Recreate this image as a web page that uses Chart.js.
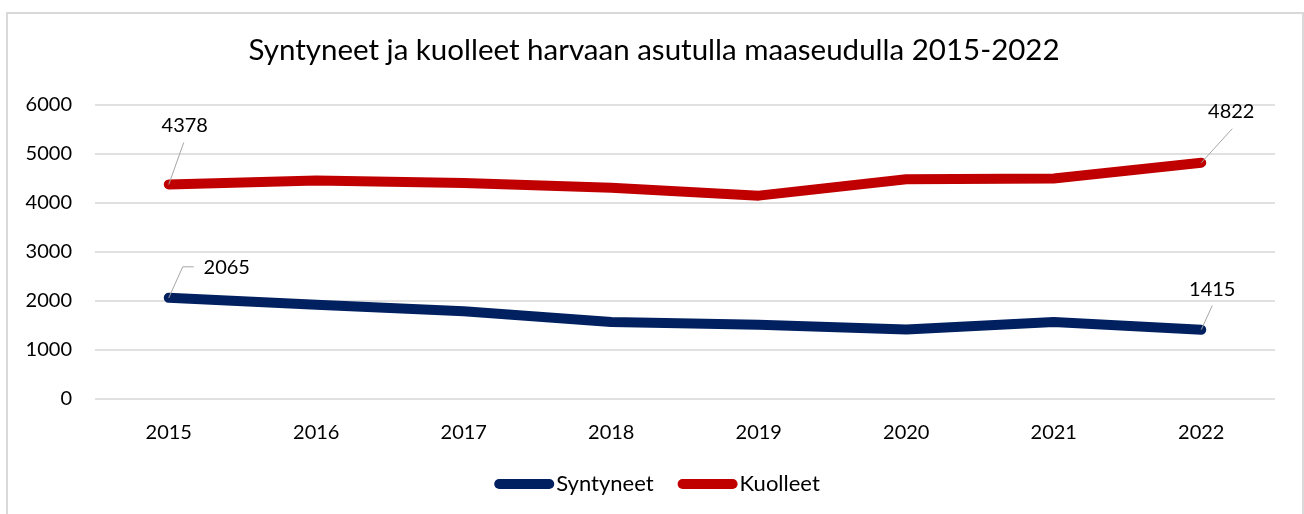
<!DOCTYPE html>
<html>
<head>
<meta charset="utf-8">
<script src="https://cdn.jsdelivr.net/npm/chart.js@4/dist/chart.umd.min.js"></script>
<style>
  html, body { margin: 0; padding: 0; background: #ffffff; }
  #wrap { position: relative; width: 1304px; height: 514px; overflow: hidden; }
  canvas { display: block; }
</style>
</head>
<body>
<div id="wrap"><canvas id="c" width="1304" height="514"></canvas></div>
<script>
const titleText = 'Syntyneet ja kuolleet harvaan asutulla maaseudulla 2015-2022';
const years = ['2015', '2016', '2017', '2018', '2019', '2020', '2021', '2022'];
const syntyneet = [2065, 1925, 1790, 1570, 1515, 1420, 1570, 1415];
const kuolleet = [4378, 4460, 4410, 4310, 4150, 4485, 4500, 4822];
const seriesNames = ['Syntyneet', 'Kuolleet'];
const seriesColors = ['#002060', '#C00000'];
const yTicks = [0, 1000, 2000, 3000, 4000, 5000, 6000];

// Data labels shown (series index, point index) and their callout styling offsets
const labelSpecs = [
  { ds: 1, i: 0, dx: 16, dy: -59, leader: [[0, 0], [15, -42]] },
  { ds: 0, i: 0, dx: 58, dy: -30, leader: [[0, 0], [14, -31], [25, -31]] },
  { ds: 1, i: 7, dx: 30, dy: -51, leader: [[0, 0], [31, -34]] },
  { ds: 0, i: 7, dx: 11, dy: -40, leader: [[0, 0], [11, -24]] }
];

const FONT = 'Lato, "Open Sans", sans-serif';

const framePlugin = {
  id: 'frame',
  beforeDraw(chart) {
    const ctx = chart.ctx;
    ctx.save();
    ctx.fillStyle = '#ffffff';
    ctx.fillRect(0, 0, chart.width, chart.height);
    ctx.strokeStyle = '#d9d9d9';
    ctx.lineWidth = 2;
    ctx.strokeRect(7, 13, 1296, 520);
    ctx.restore();
  }
};

const titlePlugin = {
  id: 'customTitle',
  afterDraw(chart) {
    const ctx = chart.ctx;
    ctx.save();
    ctx.fillStyle = '#000000';
    ctx.font = '29.5px ' + FONT;
    ctx.textAlign = 'center';
    ctx.textBaseline = 'middle';
    ctx.fillText(titleText, 654, 50);
    ctx.restore();
  }
};

const calloutPlugin = {
  id: 'callouts',
  afterDatasetsDraw(chart) {
    const ctx = chart.ctx;
    const xs = chart.scales.x, ys = chart.scales.y;
    ctx.save();
    labelSpecs.forEach(s => {
      const v = chart.data.datasets[s.ds].data[s.i];
      const px = xs.getPixelForValue(s.i);
      const py = ys.getPixelForValue(v);
      ctx.strokeStyle = '#a6a6a6';
      ctx.lineWidth = 1;
      ctx.beginPath();
      s.leader.forEach((p, k) => {
        if (k === 0) ctx.moveTo(px + p[0], py + p[1]);
        else ctx.lineTo(px + p[0], py + p[1]);
      });
      ctx.stroke();
      ctx.fillStyle = '#000000';
      ctx.font = '20px ' + FONT;
      ctx.textAlign = 'center';
      ctx.textBaseline = 'middle';
      ctx.fillText(String(v), px + s.dx, py + s.dy);
    });
    ctx.restore();
  }
};

const legendPlugin = {
  id: 'customLegend',
  afterDraw(chart) {
    const ctx = chart.ctx;
    ctx.save();
    ctx.font = '22px ' + FONT;
    const sampleW = 60, gapText = 2, gapItem = 24;
    const widths = seriesNames.map(n => ctx.measureText(n).width);
    let total = 0;
    widths.forEach((w, k) => { total += sampleW + gapText + w + (k < widths.length - 1 ? gapItem : 0); });
    let x = 657 - total / 2;
    const y = 484;
    seriesNames.forEach((n, k) => {
      ctx.strokeStyle = seriesColors[k];
      ctx.lineWidth = 10;
      ctx.lineCap = 'round';
      ctx.beginPath();
      ctx.moveTo(x + 5, y);
      ctx.lineTo(x + sampleW - 5, y);
      ctx.stroke();
      ctx.fillStyle = '#000000';
      ctx.textAlign = 'left';
      ctx.textBaseline = 'middle';
      ctx.fillText(n, x + sampleW + gapText, y);
      x += sampleW + gapText + widths[k] + gapItem;
    });
    ctx.restore();
  }
};

new Chart(document.getElementById('c'), {
  type: 'line',
  data: {
    labels: years,
    datasets: [
      { label: seriesNames[0], data: syntyneet, borderColor: seriesColors[0], backgroundColor: seriesColors[0] },
      { label: seriesNames[1], data: kuolleet, borderColor: seriesColors[1], backgroundColor: seriesColors[1] }
    ]
  },
  options: {
    responsive: false,
    animation: false,
    devicePixelRatio: 1,
    layout: { padding: { left: 0, right: 29, top: 105, bottom: 0 } },
    elements: {
      line: { borderWidth: 10, borderCapStyle: 'round', borderJoinStyle: 'round', tension: 0, fill: false },
      point: { radius: 0, hoverRadius: 0 }
    },
    plugins: {
      legend: { display: false },
      tooltip: { enabled: false },
      title: { display: false }
    },
    scales: {
      x: {
        offset: true,
        grid: { display: false, drawTicks: false },
        border: { display: false },
        ticks: { color: '#000000', font: { family: FONT, size: 20 }, padding: 22, maxRotation: 0 },
        afterFit(s) { s.height = 115; }
      },
      y: {
        min: 0, max: 6000,
        afterBuildTicks(s) { s.ticks = yTicks.map(v => ({ value: v })); },
        grid: { color: '#e0e0e0', lineWidth: 2, drawTicks: false },
        border: { display: false },
        ticks: { color: '#000000', font: { family: FONT, size: 20 }, padding: 23, callback: v => String(v) },
        afterFit(s) { s.width = 95; }
      }
    }
  },
  plugins: [framePlugin, titlePlugin, calloutPlugin, legendPlugin]
});
</script>
</body>
</html>
